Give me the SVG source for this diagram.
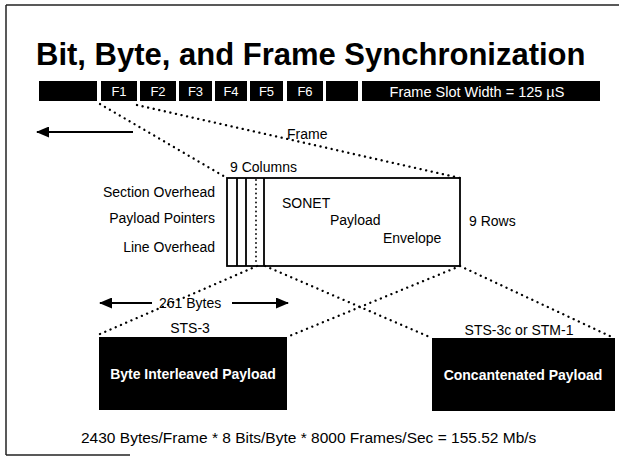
<svg xmlns="http://www.w3.org/2000/svg" width="619" height="463" viewBox="0 0 619 463">
  <style>
    text { font-family: "Liberation Sans", Arial, Helvetica, sans-serif; fill: #000; }
    .title { font-size: 31px; font-weight: bold; }
    .lbl { font-size: 14px; }
    .slot { font-size: 13px; fill: #fff; }
    .boxlbl { font-size: 14px; font-weight: bold; fill: #fff; }
    .dots { fill: none; stroke: #000; stroke-width: 2.3; stroke-linecap: round; stroke-dasharray: 0.1 5.6; }
    .fine { fill: none; stroke: #000; stroke-width: 1.8; stroke-linecap: round; stroke-dasharray: 0.1 4.4; }
    .solid { fill: none; stroke: #000; stroke-width: 1.8; }
    .blk { fill: #000; }
  </style>
  <defs>
    <marker id="head" viewBox="0 0 13 11" refX="12" refY="5.5" markerWidth="13" markerHeight="11" markerUnits="userSpaceOnUse" orient="auto-start-reverse">
      <path d="M0,0 L13,5.5 L0,11 z" fill="#000"/>
    </marker>
  </defs>

  <rect width="619" height="463" fill="#fff"/>

  <!-- page border -->
  <g id="border" stroke="#222" stroke-width="1.5" fill="none">
    <path d="M6,5 H619"/>
    <path d="M6,5 V455"/>
    <path d="M6,455 H130"/>
  </g>

  <text class="title" x="36" y="65">Bit, Byte, and Frame Synchronization</text>

  <!-- frame slot bar -->
  <g id="frame-bar">
    <rect class="blk" x="39" y="81" width="58" height="20"/>
    <rect class="blk" x="101" y="81" width="36" height="20"/>
    <rect class="blk" x="140" y="81" width="36" height="20"/>
    <rect class="blk" x="179" y="81" width="33" height="20"/>
    <rect class="blk" x="215" y="81" width="32" height="20"/>
    <rect class="blk" x="250" y="81" width="33" height="20"/>
    <rect class="blk" x="287" y="81" width="36" height="20"/>
    <rect class="blk" x="326" y="81" width="32" height="20"/>
    <rect class="blk" x="362" y="81" width="238" height="20"/>
    <text class="slot" x="119" y="96" text-anchor="middle">F1</text>
    <text class="slot" x="158" y="96" text-anchor="middle">F2</text>
    <text class="slot" x="195.5" y="96" text-anchor="middle">F3</text>
    <text class="slot" x="231" y="96" text-anchor="middle">F4</text>
    <text class="slot" x="266.5" y="96" text-anchor="middle">F5</text>
    <text class="slot" x="305" y="96" text-anchor="middle">F6</text>
    <text class="slot" x="477" y="97" text-anchor="middle" style="font-size:14.5px">Frame Slot Width = 125 µS</text>
  </g>

  <!-- SONET frame: 9 columns of overhead + payload envelope -->
  <g id="sonet-frame">
    <rect class="solid" x="227" y="178" width="233" height="88"/>
    <path class="solid" d="M237,178 V266 M246,178 V266 M264,178 V266"/>
    <path class="fine" d="M256,180 V264"/>
    <text class="lbl" x="230" y="172">9 Columns</text>
    <text class="lbl" x="282" y="208">SONET</text>
    <text class="lbl" x="330" y="225">Payload</text>
    <text class="lbl" x="383" y="243">Envelope</text>
    <text class="lbl" x="469" y="226">9 Rows</text>
  </g>

  <g id="overhead-labels">
    <text class="lbl" x="215" y="197" text-anchor="end">Section Overhead</text>
    <text class="lbl" x="215" y="223" text-anchor="end">Payload Pointers</text>
    <text class="lbl" x="215" y="252" text-anchor="end">Line Overhead</text>
  </g>

  <g id="sts3">
    <rect class="blk" x="99" y="337" width="188" height="73"/>
    <text class="boxlbl" x="193" y="379" text-anchor="middle">Byte Interleaved Payload</text>
    <text class="lbl" x="190" y="333" text-anchor="middle">STS-3</text>
  </g>

  <g id="sts3c">
    <rect class="blk" x="432" y="338" width="183" height="73"/>
    <text class="boxlbl" x="523" y="380" text-anchor="middle">Concantenated Payload</text>
    <text class="lbl" x="519" y="335" text-anchor="middle">STS-3c or STM-1</text>
  </g>

  <!-- connectors -->
  <g id="connectors">
    <path class="dots" d="M100,104 L227,178"/>
    <path class="dots" d="M137,105 L460,178"/>
    <path class="dots" d="M257,266 L100,334"/>
    <path class="dots" d="M460,266 L287,337"/>
    <path class="dots" d="M265,266 L432,338"/>
    <path class="dots" d="M460,266 L614,338"/>
    <path class="solid" stroke-width="2.5" d="M133,132 H37" marker-end="url(#head)"/>
    <path class="solid" stroke-width="2.5" d="M152,303 H100" marker-end="url(#head)"/>
    <path class="solid" stroke-width="2.5" d="M232,303 H288" marker-end="url(#head)"/>
  </g>

  <text class="lbl" x="287" y="139">Frame</text>
  <text class="lbl" x="159" y="308">261 Bytes</text>

  <text class="lbl" x="81" y="443" style="font-size:15.5px">2430 Bytes/Frame * 8 Bits/Byte * 8000 Frames/Sec = 155.52 Mb/s</text>
</svg>
